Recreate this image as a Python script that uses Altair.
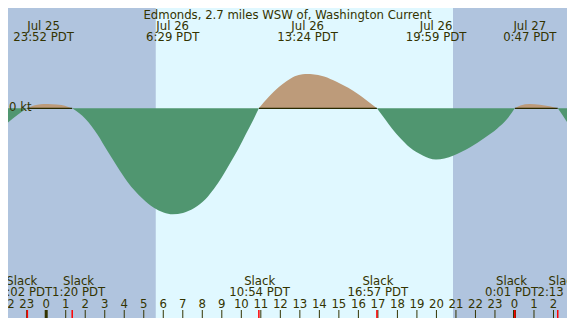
import altair as alt
import pandas as pd

# ---- data (hours from Jul 26 00:00 PDT; current in knots) ----
X_DOMAIN = [-1.958, 26.692]
Y_DOMAIN = [-2.980, 1.426]

SEG_NAMES = ["ebb0", "flood0", "ebb1", "flood1", "ebb2", "flood2", "ebb3"]
SEG_KINDS = ["ebb", "flood", "ebb", "flood", "ebb", "flood", "ebb"]
SEG_HOURS = [
    [-1.958, -1.46, -0.967],
    [-0.967, -0.71, -0.45, -0.133, 0.3, 0.78, 1.13, 1.333],
    [1.333, 2.028, 2.626, 3.124, 3.622, 4.17, 4.918, 5.516, 6.014, 6.483, 7.01, 7.61, 8.16, 8.60, 9.00, 9.40, 9.85, 10.25, 10.63, 10.9],
    [10.9, 11.41, 11.91, 12.33, 12.74, 13.14, 13.40, 13.64, 14.24, 14.88, 15.48, 15.98, 16.38, 16.68, 16.95],
    [16.95, 17.39, 17.72, 18.14, 18.64, 19.30, 19.62, 19.98, 20.41, 20.88, 21.71, 22.46, 23.12, 23.62, 24.017],
    [24.017, 24.3, 24.78, 25.3, 25.8, 26.217],
    [26.217, 26.44, 26.692],
]
SEG_VALUES = [
    [-0.20, -0.09, 0.0],
    [0.0, 0.034, 0.052, 0.061, 0.057, 0.047, 0.02, 0.0],
    [0.0, -0.155, -0.372, -0.601, -0.818, -1.047, -1.277, -1.412, -1.48, -1.507, -1.486, -1.412, -1.291, -1.142, -0.98, -0.791, -0.574, -0.358, -0.155, 0.0],
    [0.0, 0.165, 0.300, 0.389, 0.457, 0.485, 0.489, 0.486, 0.453, 0.378, 0.291, 0.203, 0.122, 0.058, 0.0],
    [0.0, -0.162, -0.286, -0.422, -0.557, -0.669, -0.71, -0.727, -0.712, -0.669, -0.557, -0.422, -0.286, -0.151, 0.0],
    [0.0, 0.04, 0.061, 0.052, 0.03, 0.0],
    [0.0, -0.088, -0.196],
]

SUNRISE = 5.615
SUNSET = 20.85

PEAK_HOURS = [-0.133, 6.483, 13.4, 19.983, 24.783]
PEAK_DATES = ["Jul 25", "Jul 26", "Jul 26", "Jul 26", "Jul 27"]
PEAK_TIMES = ["23:52 PDT", "6:29 PDT", "13:24 PDT", "19:59 PDT", "0:47 PDT"]

SLACK_HOURS = [-0.967, 1.333, 10.9, 16.95, 24.017, 26.217]
SLACK_LABEL_POS = [-1.25, 1.66, 10.94, 17.0, 23.85, 26.54]
SLACK_TIMES = ["23:02 PDT", "1:20 PDT", "10:54 PDT", "16:57 PDT", "0:01 PDT", "2:13 PDT"]

HOUR_TICKS = list(range(-2, 27))
HOUR_LABELS = [str(h % 24) for h in HOUR_TICKS]

TITLE = "Edmonds, 2.7 miles WSW of, Washington Current"

# ---- tables ----
rows = []
for name, kind, hs, vs in zip(SEG_NAMES, SEG_KINDS, SEG_HOURS, SEG_VALUES):
    for h, v in zip(hs, vs):
        rows.append({"seg": name, "kind": kind, "h": h, "v": v})
curve = pd.DataFrame(rows)

flood_spans = pd.DataFrame([
    {"h": hs[0], "h2": hs[-1], "zero": 0.0} for kind, hs in zip(SEG_KINDS, SEG_HOURS) if kind == "flood"
])
night = pd.DataFrame({"h": [X_DOMAIN[0]], "h2": [X_DOMAIN[1]]})
day = pd.DataFrame({"h": [SUNRISE], "h2": [SUNSET]})
peaks = pd.DataFrame({"h": PEAK_HOURS, "d": PEAK_DATES, "t": PEAK_TIMES})
slacks = pd.DataFrame({"h": SLACK_LABEL_POS, "t": SLACK_TIMES})
slack_ticks = pd.DataFrame({"h": SLACK_HOURS})
ticks = pd.DataFrame({"h": HOUR_TICKS, "lab": HOUR_LABELS})
ticks["w"] = [3 if l == "0" else 1 for l in HOUR_LABELS]

W, H = 559, 310
TXT = "#333300"
FONT = "DejaVu Sans"
FS = 11.7

xs = alt.Scale(domain=X_DOMAIN, nice=False, zero=False)
ys = alt.Scale(domain=Y_DOMAIN, nice=False, zero=False)
X = alt.X("h:Q", scale=xs, axis=None)

night_bg = alt.Chart(night).mark_rect(color="#b0c4de").encode(
    x=X, x2="h2:Q", y=alt.value(0), y2=alt.value(H))
day_bg = alt.Chart(day).mark_rect(color="#e0f8ff").encode(
    x=X, x2="h2:Q", y=alt.value(0), y2=alt.value(H))


def area_layer(kind, colour):
    return alt.Chart(curve).transform_filter(alt.datum.kind == kind).mark_area(
        interpolate="monotone", color=colour
    ).encode(
        x=X,
        y=alt.Y("v:Q", scale=ys, axis=None, stack=None),
        y2=alt.datum(0),
        detail="seg:N",
    )


flood_area = area_layer("flood", "#bd9b7a")
ebb_area = area_layer("ebb", "#509670")

zero_line = alt.Chart(flood_spans).mark_rule(color="#2a2a00", strokeWidth=1.2).encode(
    x=X, x2="h2:Q", y=alt.Y("zero:Q", scale=ys, axis=None),
)

zero_px = H * Y_DOMAIN[1] / (Y_DOMAIN[1] - Y_DOMAIN[0])
kt_label = alt.Chart(pd.DataFrame({"t": ["0 kt"]})).mark_text(
    align="left", baseline="middle", font=FONT, fontSize=FS, color=TXT
).encode(x=alt.value(1), y=alt.value(zero_px - 1), text="t:N")

title = alt.Chart(pd.DataFrame({"t": [TITLE]})).mark_text(
    align="center", baseline="middle", font=FONT, fontSize=FS, color=TXT
).encode(x=alt.value(W / 2), y=alt.value(7.0), text="t:N")

peak_d = alt.Chart(peaks).mark_text(align="center", baseline="middle", font=FONT, fontSize=FS, color=TXT).encode(
    x=X, y=alt.value(18.4), text="d:N")
peak_t = alt.Chart(peaks).mark_text(align="center", baseline="middle", font=FONT, fontSize=FS, color=TXT).encode(
    x=X, y=alt.value(29.4), text="t:N")

slack_w = alt.Chart(slacks).mark_text(align="center", baseline="middle", font=FONT, fontSize=FS, color=TXT).encode(
    x=X, y=alt.value(273.4), text=alt.value("Slack"))
slack_t = alt.Chart(slacks).mark_text(align="center", baseline="middle", font=FONT, fontSize=FS, color=TXT).encode(
    x=X, y=alt.value(284.2), text="t:N")

hour_lab = alt.Chart(ticks).mark_text(align="center", baseline="middle", font=FONT, fontSize=FS, color=TXT).encode(
    x=X, y=alt.value(296.0), text="lab:N")
hour_tick = alt.Chart(ticks).mark_rule(color=TXT).encode(
    x=X, y=alt.value(302), y2=alt.value(H),
    strokeWidth=alt.StrokeWidth("w:Q", scale=None, legend=None),
)
red_tick = alt.Chart(slack_ticks).mark_rule(color="#ff0000", strokeWidth=1.5).encode(
    x=X, y=alt.value(302), y2=alt.value(H))

chart = alt.layer(
    night_bg, day_bg, flood_area, zero_line, ebb_area, kt_label, title, peak_d, peak_t,
    slack_w, slack_t, hour_lab, hour_tick, red_tick
).properties(
    width=W, height=H, padding=0, autosize="none"
).configure_view(strokeWidth=0)

chart.save("out.html", embed_options={"renderer": "svg", "actions": False})
